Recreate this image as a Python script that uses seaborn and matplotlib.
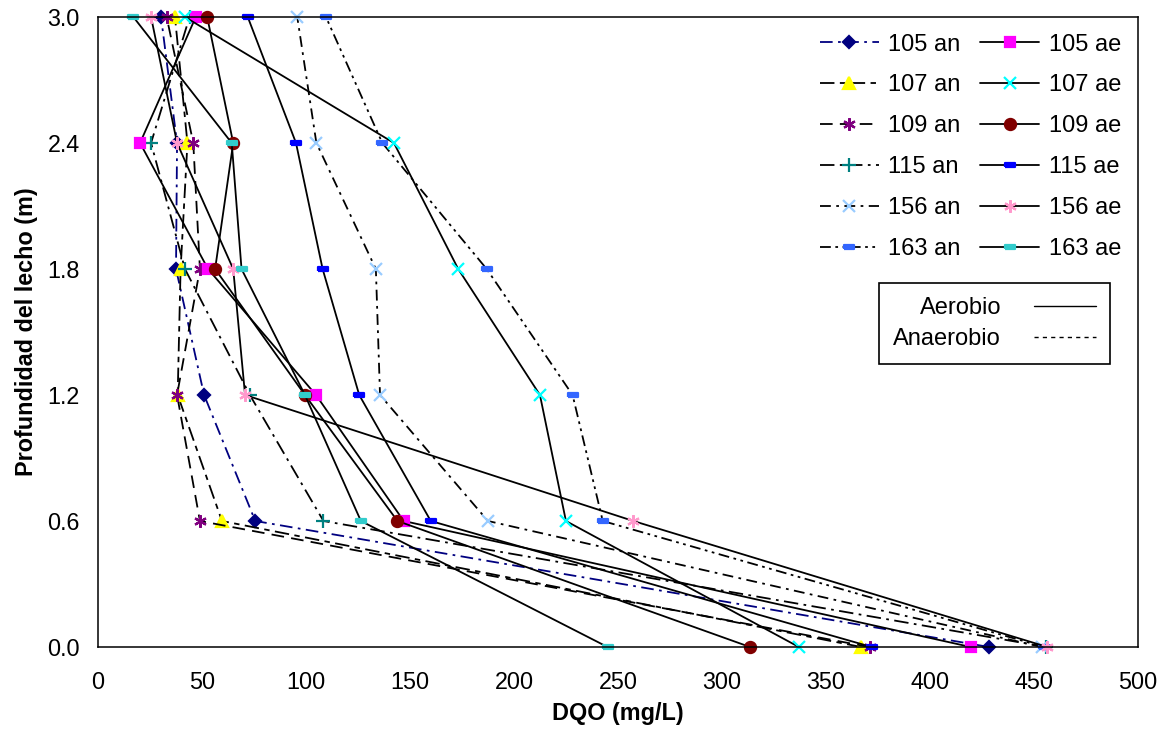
import matplotlib
matplotlib.use("Agg")
import matplotlib.pyplot as plt
import seaborn as sns
from matplotlib.lines import Line2D

# Bed depth (m) and COD (mg/L) profiles
depths = [0.0, 0.6, 1.2, 1.8, 2.4, 3.0]

dqo_105_an = [428.5, 75.6, 51.0, 37.5, 38.0, 30.3]
dqo_107_an = [367.0, 59.6, 38.3, 39.7, 43.0, 37.0]
dqo_109_an = [371.0, 49.0, 38.0, 49.0, 45.8, 33.0]
dqo_115_an = [456.0, 108.4, 73.0, 41.8, 25.5, 44.0]
dqo_156_an = [454.0, 187.5, 135.6, 133.6, 105.0, 95.8]
dqo_163_an = [455.0, 242.7, 228.2, 186.9, 136.7, 109.6]

dqo_105_ae = [419.6, 147.0, 104.8, 52.9, 20.2, 47.0]
dqo_107_ae = [337.0, 225.0, 212.5, 173.2, 142.3, 41.8]
dqo_109_ae = [313.5, 144.0, 99.5, 56.3, 65.0, 52.5]
dqo_115_ae = [372.0, 160.0, 125.6, 108.0, 95.2, 72.0]
dqo_156_ae = [456.5, 257.4, 70.7, 65.0, 38.0, 25.5]
dqo_163_ae = [245.0, 126.4, 99.5, 69.0, 64.3, 17.0]

x_ticks = [0, 50, 100, 150, 200, 250, 300, 350, 400, 450, 500]

# small horizontal bar marker (Excel "dash")
bar = [(-1, -0.38), (1, -0.38), (1, 0.38), (-1, 0.38), (-1, -0.38)]
asterisk = (6, 2, 0)

# label, values, line colour, line style, marker, marker colour, marker size
series = [
    ("105 an", dqo_105_an, "#000080", (0, (7, 3, 1.5, 3)), "D", "#000080", 6),
    ("107 an", dqo_107_an, "black", (0, (8, 3, 3, 3)), "^", "#FFFF00", 8),
    ("109 an", dqo_109_an, "black", (0, (7, 4)), asterisk, "#800080", 9),
    ("115 an", dqo_115_an, "black", (0, (8, 3, 1.5, 3)), "+", "#008080", 10),
    ("156 an", dqo_156_an, "black", (0, (6, 3, 1.5, 3)), "x", "#99CCFF", 8),
    ("163 an", dqo_163_an, "black", (0, (6, 2.5, 1.5, 2.5, 1.5, 2.5)), bar, "#3366FF", 6.5),
    ("105 ae", dqo_105_ae, "black", "-", "s", "#FF00FF", 7),
    ("107 ae", dqo_107_ae, "black", "-", "x", "#00FFFF", 8),
    ("109 ae", dqo_109_ae, "black", "-", "o", "#800000", 8),
    ("115 ae", dqo_115_ae, "black", "-", bar, "#0000FF", 6.5),
    ("156 ae", dqo_156_ae, "black", "-", asterisk, "#FF99CC", 9),
    ("163 ae", dqo_163_ae, "black", "-", bar, "#33CCCC", 7.5),
]

sns.set_style("white")
plt.rcParams["font.family"] = ["Liberation Sans", "DejaVu Sans"]
plt.rcParams["text.color"] = "black"
plt.rcParams["axes.labelcolor"] = "black"

fig, ax = plt.subplots(figsize=(11.67, 7.29), dpi=100)
fig.subplots_adjust(left=0.084, right=0.975, top=0.9767, bottom=0.1125)

for label, values, lcolor, ls, marker, mcolor, ms in series:
    sns.lineplot(x=values, y=depths, ax=ax, sort=False, estimator=None,
                 color=lcolor, linestyle=ls, linewidth=1.3, label=label,
                 marker=marker, markersize=ms, markerfacecolor=mcolor,
                 markeredgecolor=mcolor, markeredgewidth=1.6, clip_on=False)

ax.set_xlim(0, 500)
ax.set_ylim(0, 3.0)
ax.set_xticks(x_ticks)
ax.set_yticks(depths)
ax.set_yticklabels([f"{d:.1f}" for d in depths])
ax.tick_params(axis="both", direction="out", length=5, width=1, color="#666666",
               labelsize=16.8, labelcolor="black")
ax.tick_params(axis="x", pad=12)
ax.tick_params(axis="y", pad=8)
for sp in ax.spines.values():
    sp.set_color("black")
    sp.set_linewidth(1.1)

ax.set_xlabel("DQO (mg/L)", fontsize=16.8, fontweight="bold", labelpad=6, color="black")
ax.set_ylabel("Profundidad del lecho (m)", fontsize=16.8, fontweight="bold", labelpad=7,
              color="black")

handles, labels = ax.get_legend_handles_labels()
leg1 = ax.legend(handles, labels, ncol=2, loc="upper right", bbox_to_anchor=(1, 1),
                 frameon=False, fontsize=17, handlelength=2.5, handletextpad=0.4,
                 columnspacing=0.85, labelspacing=0.8, borderaxespad=0.3)
ax.add_artist(leg1)

type_handles = [Line2D([], [], color="black", lw=1.0, ls="-"),
                Line2D([], [], color="black", lw=1.0, ls=(0, (3, 3)))]
leg2 = ax.legend(type_handles, ["Aerobio", "Anaerobio"], loc="upper right",
                 bbox_to_anchor=(0.973, 0.578), borderaxespad=0, markerfirst=False,
                 fontsize=17, handlelength=2.6, handletextpad=1.4, labelspacing=0.38,
                 borderpad=0.6, fancybox=False, framealpha=1, edgecolor="black")
leg2.get_frame().set_linewidth(1.2)

plt.savefig("out.png", dpi=100)
